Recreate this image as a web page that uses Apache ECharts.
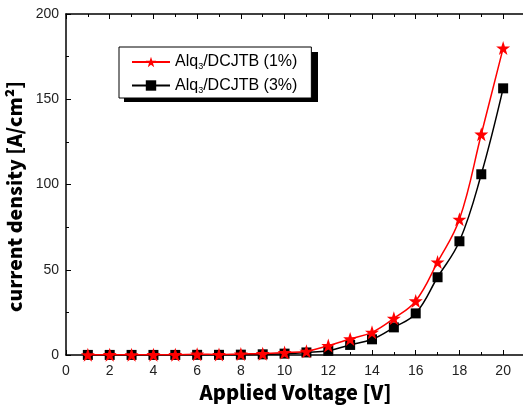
<!DOCTYPE html>
<html>
<head>
<meta charset="utf-8">
<script src="https://cdn.jsdelivr.net/npm/echarts@6/dist/echarts.min.js"></script>
<style>
  html, body { margin: 0; padding: 0; background: #fff; }
  #chart { width: 523px; height: 407px; }
</style>
</head>
<body>
<div id="chart"></div>
<script>
  // applied voltage [V]
  const voltage = [1, 2, 3, 4, 5, 6, 7, 8, 9, 10, 11, 12, 13, 14, 15, 16, 17, 18, 19, 20]
  // current density [A/cm2]
  const dcjtb1 = [0.1, 0.2, 0.1, 0.2, 0.2, 0.5, 0.3, 0.6, 0.8, 1.4, 2.2, 5.5, 9.4, 13.3, 21.5, 31.7, 54.5, 79.6, 129.5, 180]
  const dcjtb3 = [0.05, 0.05, 0.05, 0.05, 0.05, 0.1, 0.1, 0.2, 0.4, 0.8, 1.5, 2.5, 5.9, 9.2, 16.2, 24.4, 45.6, 66.7, 106, 156.4]
  const seriesNames = ['Alq3/DCJTB (1%)', 'Alq3/DCJTB (3%)']

  const starPath = 'path://M50,0 L61.8,35.1 L98.1,35.1 L68.8,56.9 L79.4,91 L50,70 L20.6,91 L31.2,56.9 L1.9,35.1 L38.2,35.1 Z'
  const font = 'Liberation Sans, Arial, sans-serif'
  const heavy = '"Noto Sans CJK KR", "Liberation Sans", sans-serif'

  const pair = (xs, ys) => xs.map((x, i) => [x, ys[i]])

  const chart = echarts.init(document.getElementById('chart'))
  const tickStyle = { show: true, inside: true, length: 5, lineStyle: { color: '#000', width: 1 } }
  const minorStyle = { show: true, splitNumber: 2, length: 3, lineStyle: { color: '#000', width: 1 } }

  chart.setOption({
    backgroundColor: '#fff',
    animation: false,
    grid: { left: 66, top: 14, width: 459, height: 341, outerBoundsMode: 'none' },
    // black drop shadow behind the legend box
    graphic: [{
      type: 'rect',
      left: 124,
      top: 52,
      z: 1,
      shape: { width: 194, height: 50 },
      style: { fill: '#000' }
    }],
    legend: {
      orient: 'vertical',
      left: 119,
      top: 47,
      z: 5,
      padding: [7, 14, 3, 12],
      itemGap: 6,
      itemWidth: 38,
      itemHeight: 13,
      backgroundColor: '#fff',
      borderColor: '#000',
      borderWidth: 1,
      data: seriesNames,
      formatter: (name) => {
        const rest = name.slice(4)
        return '{a|Alq}{s|3}{a|' + rest + '}'
      },
      textStyle: {
        rich: {
          a: { fontFamily: font, fontSize: 16, color: '#000' },
          s: { fontFamily: font, fontSize: 9, color: '#000', padding: [10, 0, 0, 0] }
        }
      }
    },
    xAxis: [{
      type: 'value',
      min: 0,
      max: 21,
      interval: 2,
      name: 'Applied Voltage [V]',
      nameLocation: 'middle',
      nameGap: 27,
      nameTextStyle: { fontFamily: heavy, fontSize: 20, fontWeight: 900, color: '#000' },
      axisLine: { lineStyle: { color: '#000', width: 1.5 } },
      axisTick: tickStyle,
      minorTick: minorStyle,
      splitLine: { show: false },
      axisLabel: { fontFamily: font, fontSize: 14, color: '#222', margin: 9, showMaxLabel: false }
    }, {
      type: 'value',
      position: 'top',
      min: 0,
      max: 21,
      interval: 2,
      axisLine: { lineStyle: { color: '#000', width: 1.5 } },
      axisTick: tickStyle,
      minorTick: minorStyle,
      splitLine: { show: false },
      axisLabel: { show: false }
    }],
    yAxis: [{
      type: 'value',
      min: 0,
      max: 200,
      interval: 50,
      name: 'current density [A/cm²]',
      nameLocation: 'middle',
      nameGap: 38,
      nameTextStyle: { fontFamily: heavy, fontSize: 19.5, fontWeight: 900, color: '#000', padding: [0, 24, 0, 0] },
      axisLine: { show: true, lineStyle: { color: '#000', width: 1.5 } },
      axisTick: tickStyle,
      minorTick: minorStyle,
      splitLine: { show: false },
      axisLabel: { fontFamily: font, fontSize: 14, color: '#222', margin: 7 }
    }],
    series: [{
      name: seriesNames[0],
      type: 'line',
      smooth: 0.4,
      data: pair(voltage, dcjtb1),
      symbol: starPath,
      symbolSize: 14,
      z: 3,
      lineStyle: { color: '#ff0000', width: 1.5 },
      itemStyle: { color: '#ff0000' }
    }, {
      name: seriesNames[1],
      type: 'line',
      smooth: 0.4,
      data: pair(voltage, dcjtb3),
      symbol: 'rect',
      symbolSize: 10,
      z: 2,
      lineStyle: { color: '#000', width: 1.5 },
      itemStyle: { color: '#000' }
    }]
  })
</script>
</body>
</html>
